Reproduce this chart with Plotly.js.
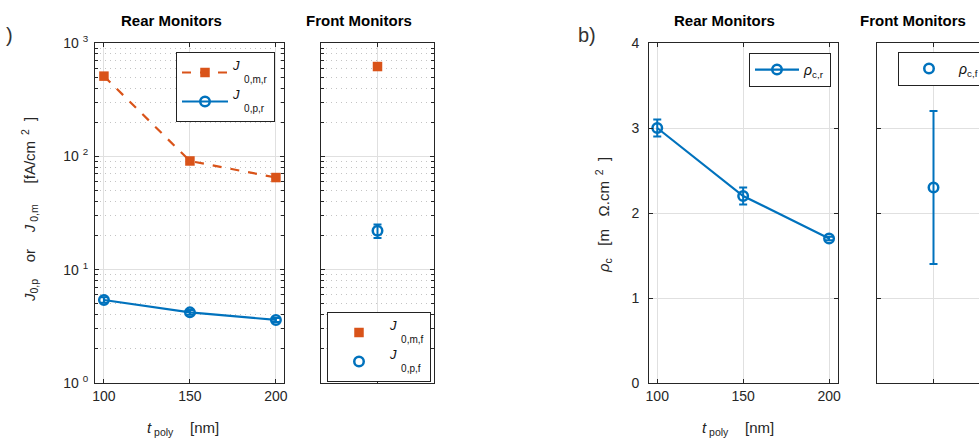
<!DOCTYPE html>
<html>
<head>
<meta charset="utf-8">
<script src="https://cdn.plot.ly/plotly-3.0.1.min.js"></script>
<style>
html, body { margin:0; padding:0; overflow:hidden; background:#fff; width:979px; height:445px; }
#chart { width:1000px; height:445px; }
</style>
</head>
<body>
<div id="chart"></div>
<script>
// ---- data ----
const tPoly = [100, 150, 200];
const J0mRear = [510, 91, 65];
const J0mRearErr = [12, 3, 2];
const J0pRear = [5.4, 4.2, 3.6];
const J0pRearErr = [0.3, 0.2, 0.15];
const frontX = [1];
const J0mFront = [620];
const J0mFrontErr = [15];
const J0pFront = [22];
const J0pFrontErr = [3];
const rhoRear = [3.0, 2.2, 1.7];
const rhoRearErr = [0.1, 0.1, 0.02];
const rhoFront = [2.3];
const rhoFrontErr = [0.9];
const logTickVals = [1, 10, 100, 1000];
const logTickText = ['10 <sup>0</sup>', '10 <sup>1</sup>', '10 <sup>2</sup>', '10 <sup>3</sup>'];
const linTickVals = [0, 1, 2, 3, 4];
const xTickVals = [100, 150, 200];

const ORANGE = '#D95319';
const BLUE = '#0072BD';
const FONT = 'Liberation Sans, Arial, Helvetica, sans-serif';
const AX = '#262626';

function eb(arr, color) {
  return {type:'data', array:arr, visible:true, color:color, thickness:2, width:4};
}
function lname(main, sub) {
  return '<span style="font-size:13px"><i>' + main + '</i></span><br>&nbsp;&nbsp;&nbsp;&nbsp;' + sub;
}

const traces = [
  {x:tPoly, y:J0mRear, error_y:eb(J0mRearErr, ORANGE), mode:'lines+markers', name:lname('J', '0,m,r'),
   line:{color:ORANGE, width:2.2, dash:'dash'}, marker:{symbol:'square', size:9.5, color:ORANGE},
   xaxis:'x', yaxis:'y', legend:'legend'},
  {x:tPoly, y:J0pRear, error_y:eb(J0pRearErr, BLUE), mode:'lines+markers', name:lname('J', '0,p,r'),
   line:{color:BLUE, width:2.2}, marker:{symbol:'circle-open', size:9.5, color:BLUE, line:{width:2.5, color:BLUE}},
   xaxis:'x', yaxis:'y', legend:'legend'},
  {x:frontX, y:J0mFront, error_y:eb(J0mFrontErr, ORANGE), mode:'markers', name:lname('J', '0,m,f'),
   marker:{symbol:'square', size:9.5, color:ORANGE},
   xaxis:'x2', yaxis:'y2', legend:'legend2'},
  {x:frontX, y:J0pFront, error_y:eb(J0pFrontErr, BLUE), mode:'markers', name:lname('J', '0,p,f'),
   marker:{symbol:'circle-open', size:9.5, color:BLUE, line:{width:2.5, color:BLUE}},
   xaxis:'x2', yaxis:'y2', legend:'legend2'},
  {x:tPoly, y:rhoRear, error_y:eb(rhoRearErr, BLUE), mode:'lines+markers', name:'<i>ρ</i><sub>c,r</sub>',
   line:{color:BLUE, width:2.2}, marker:{symbol:'circle-open', size:9.5, color:BLUE, line:{width:2.5, color:BLUE}},
   xaxis:'x3', yaxis:'y3', legend:'legend3'},
  {x:frontX, y:rhoFront, error_y:eb(rhoFrontErr, BLUE), mode:'markers', name:'<i>ρ</i><sub>c,f</sub>',
   marker:{symbol:'circle-open', size:9.5, color:BLUE, line:{width:2.5, color:BLUE}},
   xaxis:'x4', yaxis:'y4', legend:'legend4'}
];

const yDom = [(445-383)/445, (445-43)/445];
function baseAxis(extra) {
  return Object.assign({
    showline:true, linecolor:AX, linewidth:1, mirror:'allticks',
    ticks:'inside', ticklen:4, tickcolor:AX, tickwidth:1,
    showgrid:true, gridcolor:'#e0e0e0', gridwidth:1, zeroline:false,
    tickfont:{family:FONT, size:14, color:AX}, fixedrange:true
  }, extra);
}
const logMinor = {dtick:'D1', ticks:'inside', ticklen:3, tickcolor:AX, showgrid:true, gridcolor:'#c4c4c4', griddash:'1px,4px', gridwidth:1};

function legendBox(x, y, size, itemw) {
  return {x:x, y:y, xanchor:'left', yanchor:'top', bgcolor:'#fff', bordercolor:'#222', borderwidth:1,
          font:{family:FONT, size:size, color:'#111'}, tracegroupgap:0, valign:'middle', itemwidth:itemw};
}
function ann(text, x, y, size, extra) {
  return Object.assign({text:text, x:x, y:y, xref:'paper', yref:'paper', xanchor:'center', yanchor:'middle',
    showarrow:false, font:{family:FONT, size:size, color:AX}}, extra || {});
}

const layout = {
  width:1000, height:445,
  margin:{l:0, r:0, t:0, b:0},
  paper_bgcolor:'#fff', plot_bgcolor:'#fff',
  showlegend:true,
  font:{family:FONT, color:AX},
  xaxis: baseAxis({domain:[0.095,0.284], range:[94.8,204.7], tickvals:xTickVals, anchor:'y'}),
  yaxis: baseAxis({domain:yDom, type:'log', range:[0,3], tickvals:logTickVals, ticktext:logTickText, minor:logMinor, anchor:'x', ticklabelstandoff:3}),
  xaxis2: baseAxis({domain:[0.321,0.434], range:[0,2], tickvals:[1], showticklabels:false, anchor:'y2'}),
  yaxis2: baseAxis({domain:yDom, type:'log', range:[0,3], tickvals:logTickVals, showticklabels:false, minor:logMinor, anchor:'x2'}),
  xaxis3: baseAxis({domain:[0.649,0.838], range:[95.2,205.2], tickvals:xTickVals, anchor:'y3'}),
  yaxis3: baseAxis({domain:yDom, range:[0,4], tickvals:linTickVals, anchor:'x3', ticklabelstandoff:6}),
  xaxis4: baseAxis({domain:[0.877,0.990], range:[0,2], tickvals:[1], showticklabels:false, anchor:'y4'}),
  yaxis4: baseAxis({domain:yDom, range:[0,4], tickvals:linTickVals, showticklabels:false, anchor:'x4'}),
  legend: legendBox(0.176, 1-52/445, 10, 46),
  legend2: legendBox(0.327, 1-312/445, 10, 52),
  legend3: legendBox(0.749, 1-53/445, 14, 44),
  legend4: legendBox(0.898, 1-52/445, 14, 50),
  annotations: [
    ann('<b>Rear Monitors</b>', 0.171, 1-20/445, 15, {font:{family:FONT, size:15, color:'#000'}}),
    ann('<b>Front Monitors</b>', 0.3585, 1-20/445, 15, {font:{family:FONT, size:15, color:'#000'}}),
    ann('<b>Rear Monitors</b>', 0.724, 1-20/445, 15, {font:{family:FONT, size:15, color:'#000'}}),
    ann('<b>Front Monitors</b>', 0.9125, 1-20/445, 15, {font:{family:FONT, size:15, color:'#000'}}),
    ann(')', 0.015, 1-35/445, 20, {xanchor:'right', font:{family:FONT, size:20, color:'#333'}}),
    ann('b)', 0.576, 1-35/445, 20, {xanchor:'left', font:{family:FONT, size:20, color:'#333'}}),
    ann('<i>J</i><sub>0,p</sub>&nbsp;&nbsp;&nbsp;&nbsp;or&nbsp;&nbsp;&nbsp;&nbsp;<i>J</i><sub>&nbsp;0,m</sub>&nbsp;&nbsp;&nbsp;&nbsp;&nbsp;[fA/cm<sup>&nbsp;&nbsp;2</sup>&nbsp;&nbsp;]',
        0.029, 1-210/445, 15, {textangle:-90}),
    ann('<i>ρ</i><sub>c</sub>&nbsp;&nbsp;&nbsp;[m&nbsp;&nbsp;&nbsp;Ω.cm<sup>&nbsp;&nbsp;2</sup>&nbsp;&nbsp;]', 0.603, 1-215/445, 15, {textangle:-90}),
    ann('<i>t</i><sub>&nbsp;poly</sub>&nbsp;&nbsp;&nbsp;&nbsp;[nm]', 0.183, 1-428/445, 15),
    ann('<i>t</i><sub>&nbsp;poly</sub>&nbsp;&nbsp;&nbsp;&nbsp;[nm]', 0.738, 1-428/445, 15)
  ]
};

Plotly.newPlot('chart', traces, layout, {displayModeBar:false, staticPlot:true});
</script>
</body>
</html>
